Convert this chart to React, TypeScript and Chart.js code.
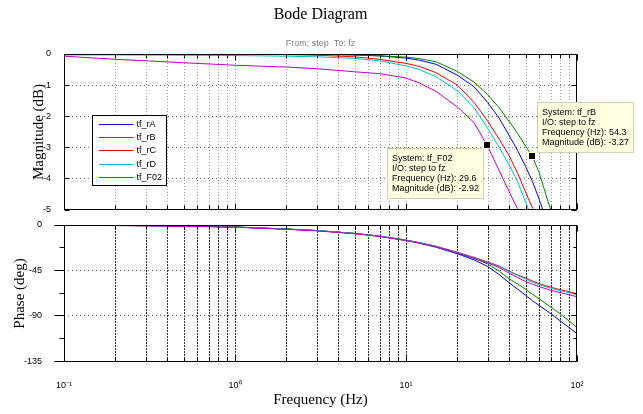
import React, { useEffect, useRef } from 'react';
import { Chart, registerables } from 'chart.js';

Chart.register(...registerables);

// ---------------- data ----------------
const freqHz = [0.1, 0.2, 0.5, 1, 2, 3, 5, 7, 10, 12, 15, 20, 25, 30, 35, 40, 45, 50, 55, 60, 70, 80, 90, 100];

const magRA = [0, 0, 0, 0, -0.01, -0.01, -0.03, -0.06, -0.13, -0.2, -0.33, -0.68, -1.05, -1.55, -2.05, -2.6, -3.1, -3.6, -4.1, -4.65, -5.7, -6.7, -7.6, -8.5];
const magRB = [0, 0, 0, 0, -0.01, -0.01, -0.03, -0.06, -0.1, -0.15, -0.25, -0.56, -0.9, -1.3, -1.72, -2.15, -2.55, -2.95, -3.3, -3.8, -4.98, -6.0, -6.9, -7.8];
const magRC = [0, 0, 0, 0, -0.02, -0.04, -0.09, -0.17, -0.3, -0.4, -0.6, -1.0, -1.55, -2.15, -2.72, -3.25, -3.83, -4.42, -4.95, -5.5, -6.5, -7.4, -8.2, -9.0];
const magRD = [-0.03, -0.03, -0.04, -0.05, -0.07, -0.09, -0.14, -0.22, -0.38, -0.5, -0.73, -1.18, -1.72, -2.38, -2.98, -3.55, -4.1, -4.75, -5.3, -5.9, -6.9, -7.8, -8.6, -9.4];
const magF02 = [-0.07, -0.17, -0.28, -0.36, -0.42, -0.47, -0.57, -0.63, -0.77, -0.93, -1.2, -1.7, -2.2, -2.95, -3.73, -4.4, -4.97, -5.5, -5.97, -6.4, -7.2, -8.0, -8.7, -9.3];

const phaseRA = [-0.2, -0.4, -1, -2, -4, -5.5, -8.4, -11.2, -15.3, -18, -22, -28.5, -34.5, -41, -49, -57, -63.5, -69.5, -75, -79.5, -87.5, -95, -101.5, -107.5];
const phaseRB = [-0.2, -0.4, -1, -2, -4, -5.5, -8.3, -11, -15, -17.6, -21.4, -27.6, -33, -38.5, -45.5, -53, -58.5, -63.5, -68.5, -73, -81, -88, -95, -101.5];
const phaseRC = [-0.2, -0.4, -1, -2, -4, -5.5, -8.3, -11, -15, -17.5, -21, -27, -32, -36.5, -40.5, -45.5, -49.5, -52.5, -55.5, -58, -61.5, -64, -66, -68];
const phaseRD = [-0.2, -0.4, -1, -2, -4, -5.5, -8.3, -11, -15, -17.5, -21.2, -27.3, -32.5, -37, -41, -46, -50, -53.5, -56.5, -59, -62.5, -65, -67, -69];
const phaseF02 = [-0.4, -0.6, -1.2, -2.2, -4.3, -5.8, -8.6, -11.3, -15.3, -17.8, -21.5, -27.5, -33, -37.5, -42, -47.5, -52, -56, -58.5, -61, -64.5, -67, -69, -71];

const seriesNames = ['tf_rA', 'tf_rB', 'tf_rC', 'tf_rD', 'tf_F02'];
const seriesMag = [magRA, magRB, magRC, magRD, magF02];
const seriesPhase = [phaseRA, phaseRB, phaseRC, phaseRD, phaseF02];

const magTicks = [0, -1, -2, -3, -4, -5];
const phaseTicks = [0, -45, -90, -135];
const phaseMinorTicks = [-22.5, -67.5, -112.5];
const decadeTicks = [0.1, 1, 10, 100];
const decadeLabels = ['10\u207B\u00B9', '10\u2070', '10\u00B9', '10\u00B2'];

const chartTitle = 'Bode Diagram';
const ioTitle = 'From: step  To: fz';
const magAxisTitle = 'Magnitude (dB)';
const phaseAxisTitle = 'Phase (deg)';
const freqAxisTitle = 'Frequency (Hz)';

const tipSystems = ['tf_F02', 'tf_rB'];
const tipIO = 'step to fz';
const tipFreqHz = [29.6, 54.3];
const tipMagDb = [-2.92, -3.27];

// ---------------- styles ----------------
const seriesColors = ['#0000ff', '#008000', '#ff0000', '#00bfbf', '#bf00bf'];
const tipPlacement = ['below-left', 'above-right'];
const SANS = "'Liberation Sans', Arial, Helvetica, sans-serif";
const SERIF = "'Liberation Serif', 'Times New Roman', serif";

function minorXValues(): number[] {
  const out: number[] = [];
  for (let i = 0; i < decadeTicks.length - 1; i++) {
    for (let k = 2; k < 10; k++) out.push(decadeTicks[i] * k);
  }
  return out;
}

type FrameCfg = {
  yMinor: number[];
  vGrid: string;
  hGrid: string;
  vDash: number[];
  hDash: number[];
  yTickOut: boolean;
};

function framePlugin(cfg: FrameCfg) {
  return {
    id: 'frame',
    beforeDatasetsDraw(chart: any) {
      const { ctx, chartArea: a, scales } = chart;
      const xs = scales.x;
      const ys = scales.y;
      ctx.save();
      ctx.lineWidth = 1;
      ctx.strokeStyle = cfg.vGrid;
      ctx.setLineDash(cfg.vDash);
      ctx.beginPath();
      const gx = [...minorXValues(), ...decadeTicks];
      for (const v of gx) {
        if (v <= xs.min * 1.0001 || v >= xs.max * 0.9999) continue;
        const px = Math.round(xs.getPixelForValue(v)) + 0.5;
        ctx.moveTo(px, a.top);
        ctx.lineTo(px, a.bottom);
      }
      ctx.stroke();
      ctx.strokeStyle = cfg.hGrid;
      ctx.setLineDash(cfg.hDash);
      ctx.beginPath();
      for (const t of ys.ticks) {
        const v = t.value;
        if (v <= ys.min || v >= ys.max) continue;
        const py = Math.floor(ys.getPixelForValue(v)) + 0.5;
        ctx.moveTo(a.left, py);
        ctx.lineTo(a.right, py);
      }
      ctx.stroke();
      ctx.restore();
    },
    afterDatasetsDraw(chart: any) {
      const { ctx, chartArea: a, scales } = chart;
      const xs = scales.x;
      const ys = scales.y;
      const L = Math.round(a.left) + 0.5;
      const R = Math.round(a.right) - 0.5;
      const T = Math.round(a.top) + 0.5;
      const B = Math.round(a.bottom) - 0.5;
      ctx.save();
      ctx.strokeStyle = '#000';
      ctx.lineWidth = 1;
      ctx.setLineDash([]);
      ctx.beginPath();
      const minors = minorXValues();
      for (const v of minors) {
        const px = Math.round(xs.getPixelForValue(v)) + 0.5;
        ctx.moveTo(px, B); ctx.lineTo(px, B - 4);
        ctx.moveTo(px, T); ctx.lineTo(px, T + 4);
      }
      for (const v of decadeTicks) {
        const px = Math.round(xs.getPixelForValue(v)) + 0.5;
        ctx.moveTo(px, B); ctx.lineTo(px, B - 6);
        ctx.moveTo(px, T); ctx.lineTo(px, T + 6);
      }
      for (const t of ys.ticks) {
        const py = Math.floor(ys.getPixelForValue(t.value)) + 0.5;
        if (cfg.yTickOut) {
          ctx.moveTo(L, py); ctx.lineTo(L - 10, py);
        } else {
          ctx.moveTo(L, py); ctx.lineTo(L + 5, py);
        }
        ctx.moveTo(R, py); ctx.lineTo(R - 5, py);
      }
      for (const v of cfg.yMinor) {
        const py = Math.floor(ys.getPixelForValue(v)) + 0.5;
        if (cfg.yTickOut) {
          ctx.moveTo(L, py); ctx.lineTo(L - 5, py);
        } else {
          ctx.moveTo(L, py); ctx.lineTo(L + 3, py);
        }
        ctx.moveTo(R, py); ctx.lineTo(R - 3, py);
      }
      ctx.stroke();
      ctx.strokeRect(L, T, R - L, B - T);
      ctx.restore();
    },
  };
}

const topTextPlugin = {
  id: 'topText',
  afterDraw(chart: any) {
    const { ctx, chartArea: a, scales } = chart;
    const cx = (a.left + a.right) / 2;
    ctx.save();
    ctx.textAlign = 'center';
    ctx.textBaseline = 'alphabetic';
    ctx.fillStyle = '#000';
    ctx.font = `16px ${SERIF}`;
    ctx.fillText(chartTitle, cx, a.top - 35);
    ctx.font = `9px ${SANS}`;
    ctx.fillStyle = '#7f7f7f';
    ctx.textBaseline = 'middle';
    ctx.fillText(ioTitle, cx, a.top - 10);
    ctx.fillStyle = '#000';
    ctx.font = `15px ${SERIF}`;
    ctx.translate(39, (a.top + a.bottom) / 2);
    ctx.rotate(-Math.PI / 2);
    ctx.fillText(magAxisTitle, 0, 0);
    ctx.restore();

    // legend
    ctx.save();
    const lx = a.left + 28.5;
    const ly = a.top + 61.5;
    const lw = 74;
    const lh = 70;
    ctx.fillStyle = '#fff';
    ctx.fillRect(lx, ly, lw, lh);
    ctx.strokeStyle = '#000';
    ctx.lineWidth = 1;
    ctx.strokeRect(lx, ly, lw, lh);
    ctx.font = `9px ${SANS}`;
    ctx.textBaseline = 'middle';
    ctx.textAlign = 'left';
    seriesNames.forEach((n, i) => {
      const yy = Math.round(ly + 8.5 + i * 13.2) + 0.5;
      ctx.strokeStyle = seriesColors[i];
      ctx.beginPath();
      ctx.moveTo(lx + 6.5, yy);
      ctx.lineTo(lx + 41, yy);
      ctx.stroke();
      ctx.fillStyle = '#000';
      ctx.fillText(n, lx + 44, yy);
    });
    ctx.restore();

    // datatips
    ctx.save();
    ctx.font = `9px ${SANS}`;
    tipSystems.forEach((sys, i) => {
      const mx = scales.x.getPixelForValue(tipFreqHz[i]);
      const my = scales.y.getPixelForValue(tipMagDb[i]);
      const lines = [
        `System: ${sys}`,
        `I/O: ${tipIO}`,
        `Frequency (Hz): ${tipFreqHz[i]}`,
        `Magnitude (dB): ${tipMagDb[i]}`,
      ];
      const w = Math.round(Math.max(...lines.map((l) => ctx.measureText(l).width)) + 9);
      const h = 50;
      let bx: number;
      let by: number;
      if (tipPlacement[i] === 'below-left') {
        bx = Math.round(mx - 4 - w) + 0.5;
        by = Math.round(my + 2.5) + 0.5;
      } else {
        bx = Math.round(mx + 5) + 0.5;
        by = Math.round(my - 4 - h) + 0.5;
      }
      ctx.fillStyle = '#ffffe1';
      ctx.fillRect(bx, by, w, h);
      ctx.strokeStyle = '#d0d0b0';
      ctx.lineWidth = 1;
      ctx.strokeRect(bx, by, w, h);
      ctx.fillStyle = '#000';
      ctx.textAlign = 'left';
      ctx.textBaseline = 'middle';
      lines.forEach((l, j) => ctx.fillText(l, bx + 4.5, by + 10.5 + j * 9.8));
      ctx.fillStyle = '#ffffcc';
      ctx.fillRect(Math.round(mx) - 4, Math.round(my) - 4, 8, 8);
      ctx.fillStyle = '#000';
      ctx.fillRect(Math.round(mx) - 3, Math.round(my) - 3, 6, 6);
    });
    ctx.restore();
  },
};

const bottomTextPlugin = {
  id: 'bottomText',
  afterDraw(chart: any) {
    const { ctx, chartArea: a } = chart;
    ctx.save();
    ctx.fillStyle = '#000';
    ctx.textAlign = 'center';
    ctx.textBaseline = 'middle';
    ctx.font = `15px ${SERIF}`;
    ctx.fillText(freqAxisTitle, (a.left + a.right) / 2, a.bottom + 38);
    ctx.translate(20, (a.top + a.bottom) / 2);
    ctx.rotate(-Math.PI / 2);
    ctx.fillText(phaseAxisTitle, 0, 0);
    ctx.restore();
  },
};

function makeDatasets(values: number[][]) {
  return seriesNames.map((name, i) => ({
    label: name,
    data: freqHz.map((f, j) => ({ x: f, y: values[i][j] })),
    borderColor: seriesColors[i],
    backgroundColor: seriesColors[i],
    borderWidth: 1,
    pointRadius: 0,
    fill: false,
    tension: 0,
    order: seriesNames.length - i,
  }));
}

const tickFont = { family: SANS, size: 9 };

function fixYWidth(s: any) {
  s.width = 64;
  s.paddingTop = 0;
  s.paddingBottom = 0;
}

export default function App() {
  const topRef = useRef<HTMLCanvasElement>(null);
  const botRef = useRef<HTMLCanvasElement>(null);

  useEffect(() => {
    const top = new Chart(topRef.current as HTMLCanvasElement, {
      type: 'line',
      data: { datasets: makeDatasets(seriesMag) as any },
      options: {
        animation: false,
        responsive: false,
        devicePixelRatio: 1,
        layout: { padding: { left: 0, right: 66, top: 54, bottom: 7 } },
        plugins: { legend: { display: false }, tooltip: { enabled: false }, title: { display: false } },
        scales: {
          x: { type: 'logarithmic', min: 0.1, max: 100, display: false },
          y: {
            type: 'linear',
            min: -5,
            max: 0,
            grid: { display: false },
            border: { display: false },
            afterFit: fixYWidth,
            afterBuildTicks: (s: any) => { s.ticks = magTicks.map((v) => ({ value: v })); },
            ticks: { font: tickFont, color: '#000', padding: 5, callback: (v: any) => String(v) },
          },
        },
      } as any,
      plugins: [
        framePlugin({ yMinor: [], vGrid: '#9a9a9a', hGrid: '#707070', vDash: [1, 2], hDash: [1, 3], yTickOut: false }),
        topTextPlugin,
      ],
    });
    const bot = new Chart(botRef.current as HTMLCanvasElement, {
      type: 'line',
      data: { datasets: makeDatasets(seriesPhase) as any },
      options: {
        animation: false,
        responsive: false,
        devicePixelRatio: 1,
        layout: { padding: { left: 0, right: 66, top: 8, bottom: 0 } },
        plugins: { legend: { display: false }, tooltip: { enabled: false }, title: { display: false } },
        scales: {
          x: {
            type: 'logarithmic',
            min: 0.1,
            max: 100,
            grid: { display: false },
            border: { display: false },
            afterFit: (s: any) => { s.height = 52; },
            afterBuildTicks: (s: any) => { s.ticks = decadeTicks.map((v) => ({ value: v })); },
            ticks: {
              font: tickFont,
              color: '#000',
              padding: 10,
              autoSkip: false,
              maxRotation: 0,
              callback: (v: any) => {
                const i = decadeTicks.findIndex((d) => Math.abs(d - Number(v)) < 1e-9 * d + 1e-12);
                return i >= 0 ? decadeLabels[i] : '';
              },
            },
          },
          y: {
            type: 'linear',
            min: -135.5,
            max: 0,
            grid: { display: false },
            border: { display: false },
            afterFit: fixYWidth,
            afterBuildTicks: (s: any) => { s.ticks = phaseTicks.map((v) => ({ value: v })); },
            ticks: { font: tickFont, color: '#000', padding: 14, callback: (v: any) => String(v) },
          },
        },
      } as any,
      plugins: [
        framePlugin({ yMinor: phaseMinorTicks, vGrid: '#303030', hGrid: '#707070', vDash: [2, 1], hDash: [1, 3], yTickOut: true }),
        bottomTextPlugin,
      ],
    });
    return () => {
      top.destroy();
      bot.destroy();
    };
  }, []);

  return (
    <div style={{ position: 'absolute', left: 0, top: 0, width: 643, height: 414, background: '#fff' }}>
      <canvas ref={topRef} width={643} height={217} style={{ position: 'absolute', left: 0, top: 0, width: 643, height: 217 }} />
      <canvas ref={botRef} width={643} height={197} style={{ position: 'absolute', left: 0, top: 217, width: 643, height: 197 }} />
    </div>
  );
}
